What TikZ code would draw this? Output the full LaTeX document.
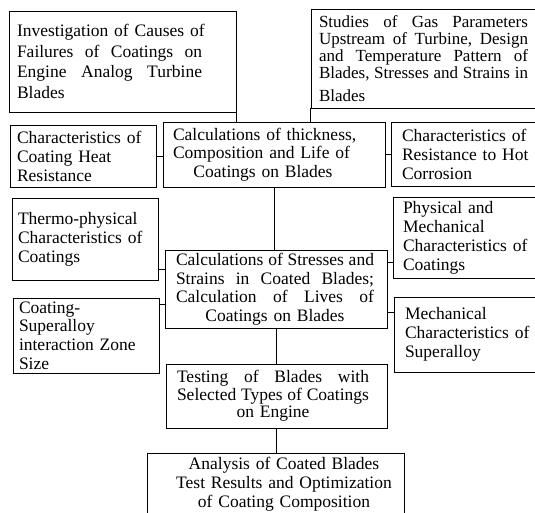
\documentclass[tikz,border=0pt]{standalone}
\usepackage{fontspec}
\setmainfont{Liberation Serif}
\newcommand{\lj}[2]{\makebox[#1pt][l]{#2}}
\newcommand{\lc}[2]{\makebox[#1pt][c]{#2}}
\def\jj{\hfill}
\begin{document}
\begin{tikzpicture}[x=1pt,y=-1pt,
  box/.style={draw, line width=0.9pt, align=left, inner ysep=0pt},
  fa/.style={font=\fontsize{17.5}{#1}\selectfont},
  conn/.style={line width=0.9pt}]
\useasboundingbox (0,0) rectangle (535,513);
\clip (0,0) rectangle (535,513);

\node[box, fa=20.5, minimum width=227pt, minimum height=101pt, text width=211pt, inner xsep=8pt] (inv) at (122.5,61.5)
 {Investigation of Causes of\\ \lj{185}{Failures\jj of\jj Coatings\jj on}\\ \lj{185}{Engine\jj Analog\jj Turbine}\\ Blades};

\node[box, font=\fontsize{17}{17}\selectfont, minimum width=234pt, minimum height=99pt, text width=218pt, inner xsep=8pt] (gas) at (428,58.5)
 {\lj{209}{Studies\jj of\jj Gas\jj Parameters}\\ \lj{209}{Upstream\jj of\jj Turbine,\jj Design}\\ \lj{209}{and\jj Temperature\jj Pattern\jj of}\\ \lj{209}{Blades,\jj Stresses\jj and\jj Strains\jj in}\\[6pt] Blades};

\node[box, fa=19, minimum width=146pt, minimum height=62pt, text width=132pt, inner xsep=7pt] (heat) at (83,156)
 {Characteristics of\\ Coating Heat\\ Resistance};

\node[box, fa=18.5, minimum width=222pt, minimum height=65pt, text width=202pt, inner xsep=10pt] (thick) at (274,154.5)
 {Calculations of thickness,\\ Composition and Life of\\ \lc{180}{Coatings on Blades}};

\node[box, fa=19, minimum width=154pt, minimum height=64pt, text width=132pt, inner xsep=11pt] (hot) at (468,154)
 {Characteristics of\\ Resistance to Hot\\ Corrosion};

\node[box, fa=19, minimum width=146pt, minimum height=82pt, text width=134pt, inner xsep=6pt] (thermo) at (85,239)
 {Thermo-physical\\ Characteristics of\\ Coatings};

\node[box, fa=19, minimum width=152pt, minimum height=81pt, text width=132pt, inner xsep=10pt] (phys) at (469,237.5)
 {Physical and\\ Mechanical\\ Characteristics of\\ Coatings};

\node[box, fa=18.5, minimum width=222pt, minimum height=78pt, text width=200pt, inner xsep=11pt] (stress) at (276,289)
 {\lj{198}{Calculations\jj of\jj Stresses\jj and}\\ \lj{198}{Strains\jj in\jj Coated\jj Blades;}\\ \lj{198}{Calculation\jj of\jj Lives\jj of}\\ \lc{198}{Coatings on Blades}};

\node[box, fa=18.7, minimum width=146pt, minimum height=75pt, text width=134pt, inner xsep=6pt] (alloy) at (86,335.5)
 {Coating-\\ Superalloy\\ interaction Zone\\ Size};

\node[box, fa=19, minimum width=151pt, minimum height=75pt, text width=129pt, inner xsep=11pt] (mech) at (469.5,334.5)
 {Mechanical\\ Characteristics of\\ Superalloy};

\node[box, fa=17.5, minimum width=221pt, minimum height=64pt, text width=199pt, inner xsep=11pt] (test) at (276.5,396)
 {\lj{192}{Testing\jj of\jj Blades\jj with}\\ \lj{192}{Selected\jj Types\jj of\jj Coatings}\\ \lc{192}{on Engine}};

\node[box, fa=19, align=center, minimum width=257pt, minimum height=63pt, text width=241pt, inner xsep=8pt] (anal) at (275.5,484.5)
 {\hspace*{17pt}Analysis of Coated Blades\\ \hspace*{17pt}Test Results and Optimization\\ \hspace*{17pt}of Coating Composition};

\coordinate (sL1) at ([yshift=-20pt]stress.north west);
\coordinate (sL2) at ([yshift=-55pt]stress.north west);
\coordinate (sR1) at ([yshift=-13pt]stress.north east);
\coordinate (sR2) at ([yshift=-63pt]stress.north east);

\draw[conn] (inv.south east) -- (inv.south east |- thick.north);
\draw[conn] (gas.south west) -- (gas.south west |- thick.north);
\draw[conn] (heat.east) -- (heat.east -| thick.west);
\draw[conn] (hot.west) -- (hot.west -| thick.east);
\draw[conn] (thick.south) -- (thick.south |- stress.north);
\draw[conn] (sL1) -- (sL1 -| thermo.east);
\draw[conn] (sL2) -- (sL2 -| alloy.east);
\draw[conn] (sR1) -- (sR1 -| phys.west);
\draw[conn] (sR2) -- (sR2 -| mech.west);
\draw[conn] (stress.south) -- (stress.south |- test.north);
\draw[conn] (test.south) -- (test.south |- anal.north);
\end{tikzpicture}
\end{document}
